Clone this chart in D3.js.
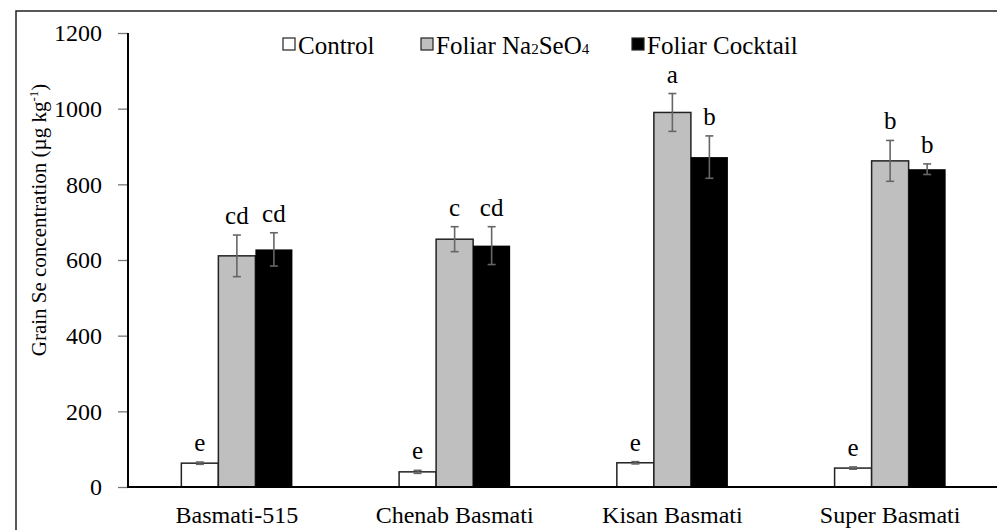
<!DOCTYPE html>
<html>
<head>
<meta charset="utf-8">
<script src="https://cdn.jsdelivr.net/npm/d3@7"></script>
<style>
  body { margin: 0; background: #fff; }
  svg text { font-family: "Liberation Serif", "Times New Roman", serif; fill: #000; }
</style>
</head>
<body>
<div id="chart"></div>
<script>
// data
var CATEGORIES = ["Basmati-515", "Chenab Basmati", "Kisan Basmati", "Super Basmati"];
var SERIES = ["Control", "Foliar Na2SeO4", "Foliar Cocktail"];
var CONTROL = [63, 40, 64, 50];
var CONTROL_ERR = [3, 4, 3, 3];
var NA2SEO4 = [611, 655, 990, 862];
var NA2SEO4_ERR = [55, 33, 50, 54];
var COCKTAIL = [628, 638, 872, 840];
var COCKTAIL_ERR = [44, 50, 56, 14];
var CONTROL_LETTERS = ["e", "e", "e", "e"];
var NA2SEO4_LETTERS = ["cd", "c", "a", "b"];
var COCKTAIL_LETTERS = ["cd", "cd", "b", "b"];
var Y_TICKS = [0, 200, 400, 600, 800, 1000, 1200];

var WIDTH = 997, HEIGHT = 530;
var SERIF = "Liberation Serif, Times New Roman, serif";
var FILLS = ["#ffffff", "#bfbfbf", "#000000"];

var values = [CONTROL, NA2SEO4, COCKTAIL];
var errors = [CONTROL_ERR, NA2SEO4_ERR, COCKTAIL_ERR];
var letters = [CONTROL_LETTERS, NA2SEO4_LETTERS, COCKTAIL_LETTERS];

// flat list of bars
var bars = [];
CATEGORIES.forEach(function(c, i) {
    SERIES.forEach(function(s, j) {
        bars.push({cat: c, series: s, idx: j, value: values[j][i], err: errors[j][i], letter: letters[j][i]});
    });
});

var svg = d3.select("#chart").append("svg")
    .attr("width", WIDTH)
    .attr("height", HEIGHT)
    .attr("font-family", SERIF);

// outer frame
svg.append("rect")
    .attr("x", 16).attr("y", 11)
    .attr("width", 1000).attr("height", 600)
    .attr("fill", "none")
    .attr("stroke", "#222")
    .attr("stroke-width", 1.5);

var x = d3.scaleBand().domain(CATEGORIES).range([128, 999])
    .paddingInner(0.49).paddingOuter(0.245);
var x1 = d3.scaleBand().domain(SERIES).range([0, x.bandwidth()]);
var y = d3.scaleLinear().domain([0, 1200]).range([487, 33]);

// y axis
var yAxis = svg.append("g")
    .attr("transform", "translate(128,0)")
    .call(d3.axisLeft(y).tickValues(Y_TICKS).tickFormat(d3.format("d")).tickSize(10).tickPadding(16));
yAxis.attr("font-family", SERIF).attr("font-size", 24);
yAxis.select(".domain").remove();
yAxis.selectAll(".tick line").attr("stroke", "#777").attr("stroke-width", 1.3);
yAxis.selectAll(".tick text").attr("fill", "#000");

// bars
svg.append("g").selectAll("rect")
    .data(bars)
    .enter().append("rect")
    .attr("x", function(d) { return x(d.cat) + x1(d.series); })
    .attr("y", function(d) { return y(d.value); })
    .attr("width", x1.bandwidth())
    .attr("height", function(d) { return y(0) - y(d.value); })
    .attr("fill", function(d) { return FILLS[d.idx]; })
    .attr("stroke", function(d) { return d.idx == 2 ? "none" : "#222"; })
    .attr("stroke-width", 1.5);

// error bars
var eb = svg.append("g").selectAll("g")
    .data(bars)
    .enter().append("g")
    .attr("stroke", "#666")
    .attr("stroke-width", 1.6);
eb.append("line")
    .attr("x1", function(d) { return x(d.cat) + x1(d.series) + x1.bandwidth() / 2; })
    .attr("x2", function(d) { return x(d.cat) + x1(d.series) + x1.bandwidth() / 2; })
    .attr("y1", function(d) { return y(d.value + d.err); })
    .attr("y2", function(d) { return y(d.value - d.err); });
[1, -1].forEach(function(sign) {
    eb.append("line")
        .attr("x1", function(d) { return x(d.cat) + x1(d.series) + x1.bandwidth() / 2 - 4; })
        .attr("x2", function(d) { return x(d.cat) + x1(d.series) + x1.bandwidth() / 2 + 4; })
        .attr("y1", function(d) { return y(d.value + sign * d.err); })
        .attr("y2", function(d) { return y(d.value + sign * d.err); });
});

// significance letters
svg.append("g").selectAll("text")
    .data(bars)
    .enter().append("text")
    .attr("x", function(d) { return x(d.cat) + x1(d.series) + x1.bandwidth() / 2; })
    .attr("y", function(d) { return y(d.value + d.err) - 11; })
    .attr("text-anchor", "middle")
    .attr("font-size", 25)
    .text(function(d) { return d.letter; });

// axes lines
svg.append("line")
    .attr("x1", 128).attr("x2", 128)
    .attr("y1", y(1200)).attr("y2", y(0))
    .attr("stroke", "#000").attr("stroke-width", 2);
svg.append("line")
    .attr("x1", 127).attr("x2", WIDTH)
    .attr("y1", y(0)).attr("y2", y(0))
    .attr("stroke", "#000").attr("stroke-width", 2);

// category labels
svg.append("g").selectAll("text")
    .data(CATEGORIES)
    .enter().append("text")
    .attr("x", function(d) { return x(d) + x.bandwidth() / 2; })
    .attr("y", 523)
    .attr("text-anchor", "middle")
    .attr("font-size", 24)
    .text(function(d) { return d; });

// y axis title
var title = svg.append("text")
    .attr("transform", "translate(46,220) rotate(-90)")
    .attr("text-anchor", "middle")
    .attr("font-size", 21);
title.append("tspan").text("Grain Se concentration (µg kg");
title.append("tspan").attr("dy", -8).attr("font-size", 13).text("-1");
title.append("tspan").attr("dy", 8).text(")");

// legend
var legendX = [283, 421, 632];
var legend = svg.append("g").selectAll("g")
    .data(SERIES)
    .enter().append("g")
    .attr("transform", function(d, i) { return "translate(" + legendX[i] + ",38)"; });
legend.append("rect")
    .attr("width", 12).attr("height", 12)
    .attr("fill", function(d, i) { return FILLS[i]; })
    .attr("stroke", "#222").attr("stroke-width", 1.2);
legend.each(function(d, i) {
    var t = d3.select(this).append("text")
        .attr("x", 15).attr("y", 16)
        .attr("font-size", 25);
    if (d == "Foliar Na2SeO4") {
        t.append("tspan").text("Foliar Na");
        t.append("tspan").attr("font-size", 15).text("2");
        t.append("tspan").text("SeO");
        t.append("tspan").attr("font-size", 15).text("4");
    } else {
        t.text(d);
    }
});
</script>
</body>
</html>
